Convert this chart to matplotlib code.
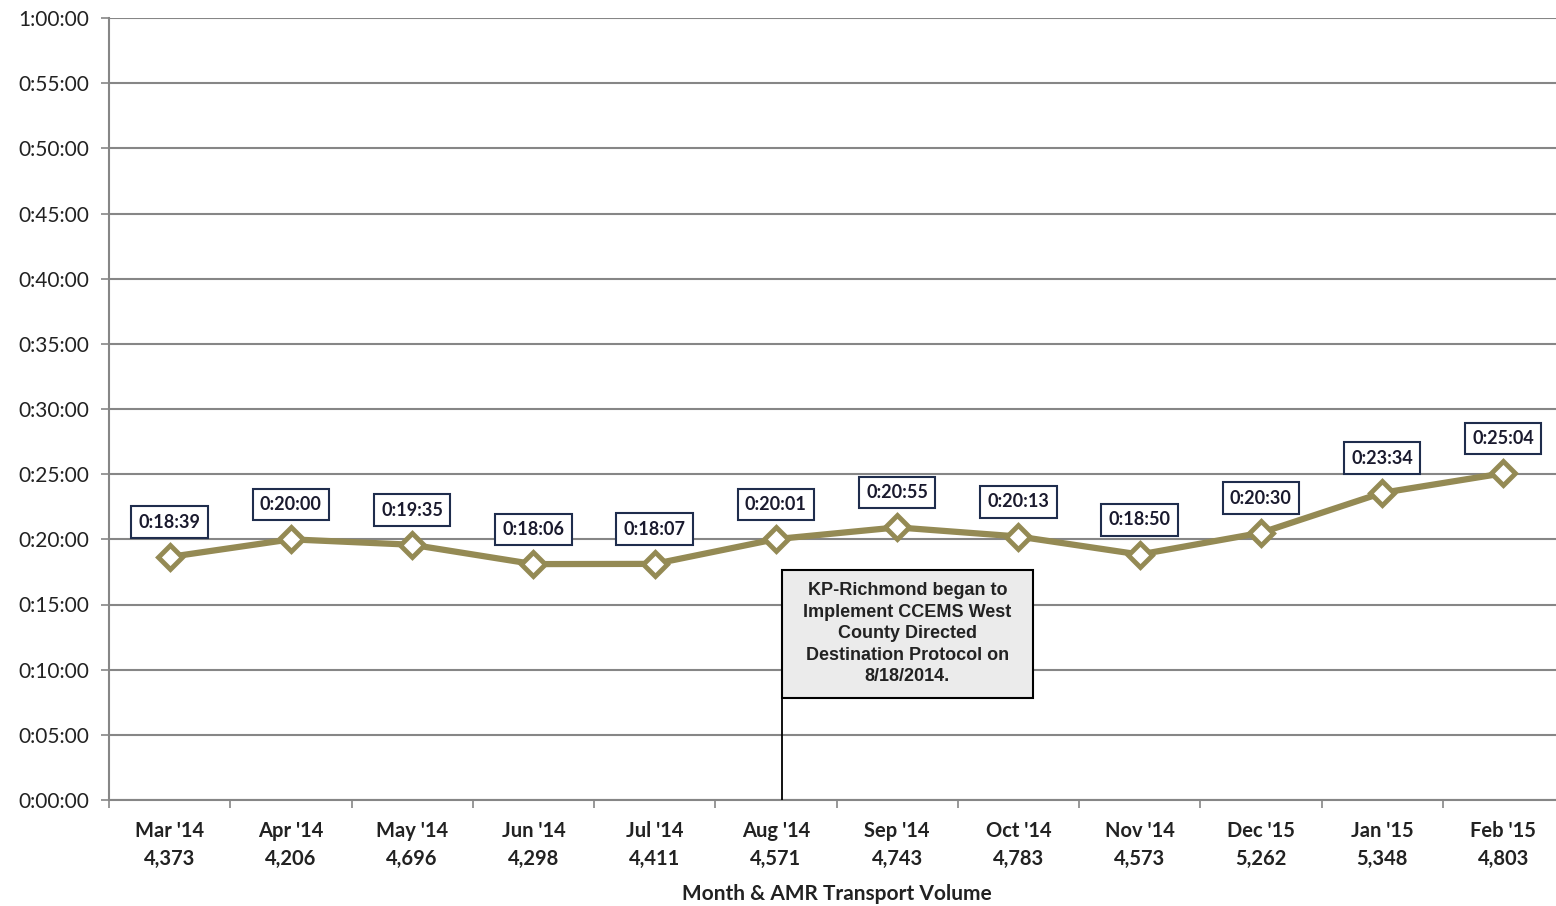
import matplotlib
matplotlib.use("Agg")
import matplotlib.pyplot as plt
from matplotlib.ticker import FuncFormatter, MultipleLocator, FixedLocator
from matplotlib.patches import Rectangle

months = ["Mar '14", "Apr '14", "May '14", "Jun '14", "Jul '14", "Aug '14",
          "Sep '14", "Oct '14", "Nov '14", "Dec '15", "Jan '15", "Feb '15"]
volumes = ["4,373", "4,206", "4,696", "4,298", "4,411", "4,571",
           "4,743", "4,783", "4,573", "5,262", "5,348", "4,803"]
times = ["0:18:39", "0:20:00", "0:19:35", "0:18:06", "0:18:07", "0:20:01",
         "0:20:55", "0:20:13", "0:18:50", "0:20:30", "0:23:34", "0:25:04"]
note = ("KP-Richmond began to\nImplement CCEMS West\nCounty Directed\n"
        "Destination Protocol on\n8/18/2014.")


def to_sec(t):
    h, m, s = (int(p) for p in t.split(":"))
    return h * 3600 + m * 60 + s


def fmt_hms(v, pos=None):
    v = int(round(v))
    return "%d:%02d:%02d" % (v // 3600, (v % 3600) // 60, v % 60)


secs = [to_sec(t) for t in times]
x = list(range(len(months)))

line_color = "#948a54"
grid_color = "#868686"
box_edge = "#1f2d4d"
text_color = "#222222"

fig = plt.figure(figsize=(15.56, 9.06), dpi=100)
ax = fig.add_axes([109 / 1556, 106 / 906, (1564 - 109) / 1556, 782 / 906])

ax.plot(x, secs, color=line_color, linewidth=4.5, marker="D", markersize=12,
        markerfacecolor="white", markeredgecolor=line_color, markeredgewidth=3.5,
        zorder=3)

for xi, s, t in zip(x, secs, times):
    ax.annotate(t, (xi, s), xytext=(0, 25), textcoords="offset points",
                ha="center", va="center", fontsize=13, fontweight="bold",
                family="Lato", color="#1a1a2e", zorder=4,
                bbox=dict(boxstyle="square,pad=0.4", fc="white",
                          ec=box_edge, lw=1.5))

ax.set_xlim(-0.5, len(months) - 0.5)
ax.set_ylim(0, 3600)
ax.yaxis.set_major_locator(MultipleLocator(300))
ax.yaxis.set_major_formatter(FuncFormatter(fmt_hms))
ax.grid(axis="y", color=grid_color, linewidth=1.5)
ax.set_axisbelow(True)

ax.set_xticks(x)
ax.set_xticklabels([m + "\n" + v for m, v in zip(months, volumes)],
                   fontsize=14.5, fontweight="bold", family="Lato",
                   color=text_color, linespacing=1.5)
ax.xaxis.set_minor_locator(FixedLocator([i - 0.5 for i in range(len(months) + 1)]))
ax.tick_params(axis="x", which="major", length=0, pad=15)
ax.tick_params(axis="x", which="minor", length=6, width=1.2, color=grid_color)
ax.tick_params(axis="y", length=6, width=1.2, color=grid_color, labelsize=15,
               pad=8)
for lab in ax.get_yticklabels():
    lab.set_family("Lato")
    lab.set_color(text_color)

for side in ["top", "right"]:
    ax.spines[side].set_visible(False)
for side in ["left", "bottom"]:
    ax.spines[side].set_color(grid_color)
    ax.spines[side].set_linewidth(1.5)

ax.set_xlabel("Month & AMR Transport Volume", fontsize=15, fontweight="bold",
              family="Lato", color=text_color, labelpad=11)

# callout box for the protocol change
bx0, bx1 = 5.05, 7.12
by0, by1 = 470, 1060
ax.add_patch(Rectangle((bx0, by0), bx1 - bx0, by1 - by0, facecolor="#ebebeb",
                       edgecolor="black", linewidth=1.5, zorder=5))
ax.text((bx0 + bx1) / 2, (by0 + by1) / 2, note, ha="center", va="center",
        fontsize=13, fontweight="bold", family="Liberation Sans",
        color=text_color, linespacing=1.35, zorder=6)
ax.plot([bx0, bx0], [0, by0], color="black", linewidth=1.3, zorder=5)

fig.savefig("out.png", dpi=100)
